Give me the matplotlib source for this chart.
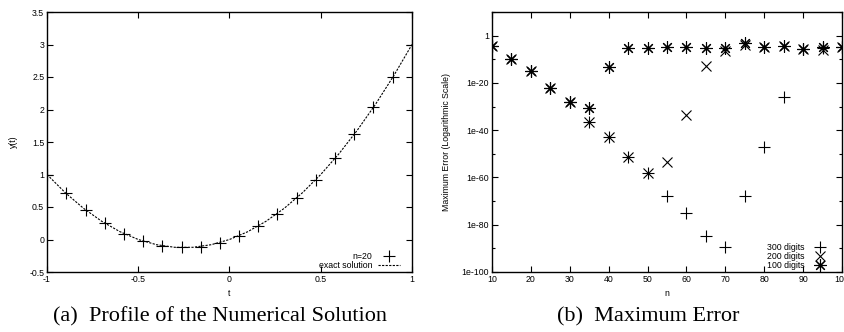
import matplotlib
matplotlib.use('Agg')
import matplotlib.pyplot as plt
from matplotlib.ticker import FixedLocator, FuncFormatter, MultipleLocator
import numpy as np

# (a) numerical solution, n=20 points
t_pts = [-1.0, -0.895, -0.789, -0.684, -0.579, -0.474, -0.368, -0.263, -0.158, -0.053,
         0.053, 0.158, 0.263, 0.368, 0.474, 0.579, 0.684, 0.789, 0.895, 1.0]
y_pts = [1.0, 0.71, 0.46, 0.25, 0.09, -0.02, -0.10, -0.12, -0.11, -0.05,
         0.06, 0.21, 0.40, 0.64, 0.92, 1.25, 1.62, 2.04, 2.50, 3.0]

# exact solution curve
t_exact = [-1.0, -0.9, -0.8, -0.7, -0.6, -0.5, -0.4, -0.3, -0.2, -0.1, 0.0,
           0.1, 0.2, 0.3, 0.4, 0.5, 0.6, 0.7, 0.8, 0.9, 1.0]
y_exact = [1.0, 0.72, 0.48, 0.28, 0.12, 0.0, -0.08, -0.12, -0.12, -0.08, 0.0,
           0.12, 0.28, 0.48, 0.72, 1.0, 1.32, 1.68, 2.08, 2.52, 3.0]

# (b) maximum error, stored as log10 of the error
n_vals = [10, 15, 20, 25, 30, 35, 40, 45, 50, 55, 60, 65, 70, 75, 80, 85, 90, 95, 100]
err300 = [-4.5, -9.9, -15.1, -22.1, -28.1, -36.4, -42.7, -51.2, -58.2, -68.0,
          -75.0, -84.9, -89.6, -68.0, -47.2, -25.8, -5.7, -5.2, -5.0]
err200 = [-4.5, -9.9, -15.1, -22.1, -28.1, -36.4, -42.7, -51.2, -58.2, -53.3,
          -33.6, -12.8, -6.5, -4.0, -4.9, -4.3, -5.8, -6.0, -5.0]
err100 = [-4.5, -9.9, -15.1, -22.1, -28.1, -30.6, -13.3, -5.3, -5.2, -5.0,
          -5.0, -5.2, -5.2, -3.3, -4.9, -4.5, -5.6, -4.8, -4.9]

plt.rcParams['font.family'] = ['Liberation Sans', 'DejaVu Sans']
W, H = 845, 332
fig = plt.figure(figsize=(W / 100, H / 100), dpi=100)

def box(l, r, top, bot):
    return [l / W, 1 - bot / H, (r - l) / W, (bot - top) / H]

tick_fs = 6.3
ms = 8
mew = 0.8

def style(ax):
    ax.tick_params(direction='in', which='both', top=True, right=True,
                   labelsize=tick_fs, width=0.8, pad=2)
    ax.tick_params(which='major', length=4)
    ax.tick_params(which='minor', length=2.5)
    for s in ax.spines.values():
        s.set_linewidth(1.0)

# left panel
ax1 = fig.add_axes(box(47, 412, 12, 272))
ax1.plot(t_pts, y_pts, ls='none', marker='+', ms=ms, mew=mew, color='black', label='n=20')
ax1.plot(t_exact, y_exact, ls=(0, (2, 1.2)), lw=0.8, color='black', label='exact solution')
ax1.set_xlim(-1, 1)
ax1.set_ylim(-0.5, 3.5)
ax1.xaxis.set_major_locator(MultipleLocator(0.5))
ax1.yaxis.set_major_locator(MultipleLocator(0.5))
ax1.xaxis.set_major_formatter(FuncFormatter(lambda v, p: f'{v:g}'))
ax1.yaxis.set_major_formatter(FuncFormatter(lambda v, p: f'{v:g}'))
style(ax1)
ax1.set_xlabel('t', fontsize=tick_fs, labelpad=4)
ax1.set_ylabel('y(t)', fontsize=tick_fs, labelpad=8)
ax1.legend(loc='lower right', bbox_to_anchor=(0.971, 0.0), frameon=False,
           markerfirst=False, fontsize=tick_fs, handlelength=2.5, handletextpad=0.6,
           labelspacing=0.0, borderaxespad=0.0, borderpad=0.2)

# right panel
ax2 = fig.add_axes(box(492, 842, 12, 272))
ax2.set_yscale('log')
ax2.plot(n_vals, 10.0 ** np.array(err300), ls='none', marker='+', ms=ms, mew=mew,
         color='black', label='300 digits')
ax2.plot(n_vals, 10.0 ** np.array(err200), ls='none', marker='x', ms=ms * 0.95, mew=mew,
         color='black', label='200 digits')
ax2.plot(n_vals, 10.0 ** np.array(err100), ls='none', marker=(8, 2, 0), ms=ms * 1.1, mew=mew,
         color='black', label='100 digits')
ax2.set_xlim(10, 100)
ax2.set_ylim(1e-100, 1e10)
ax2.xaxis.set_major_locator(MultipleLocator(10))
ax2.yaxis.set_major_locator(FixedLocator(10.0 ** np.arange(-100, 1, 20)))
ax2.yaxis.set_minor_locator(FixedLocator(10.0 ** np.arange(-90, 11, 20)))

def log_fmt(v, p):
    e = int(round(np.log10(v)))
    return '1' if e == 0 else f'1e{e}'

ax2.yaxis.set_major_formatter(FuncFormatter(log_fmt))
ax2.yaxis.set_minor_formatter(FuncFormatter(lambda v, p: ''))
style(ax2)
ax2.set_xlabel('n', fontsize=tick_fs, labelpad=4)
ax2.set_ylabel('Maximum Error (Logarithmic Scale)', fontsize=tick_fs, labelpad=8)
ax2.legend(loc='lower right', bbox_to_anchor=(0.9726, 0.0), frameon=False,
           markerfirst=False, fontsize=tick_fs, handlelength=2.4, handletextpad=0.6,
           labelspacing=0.0, borderaxespad=0.0, borderpad=0.2)

cap_fs = 16
fig.text(220 / W, 1 - 317 / H, '(a)  Profile of the Numerical Solution', family='Liberation Serif',
         fontsize=cap_fs, ha='center', va='center')
fig.text(648 / W, 1 - 317 / H, '(b)  Maximum Error', family='Liberation Serif',
         fontsize=cap_fs, ha='center', va='center')

fig.savefig('out.png', dpi=100)
